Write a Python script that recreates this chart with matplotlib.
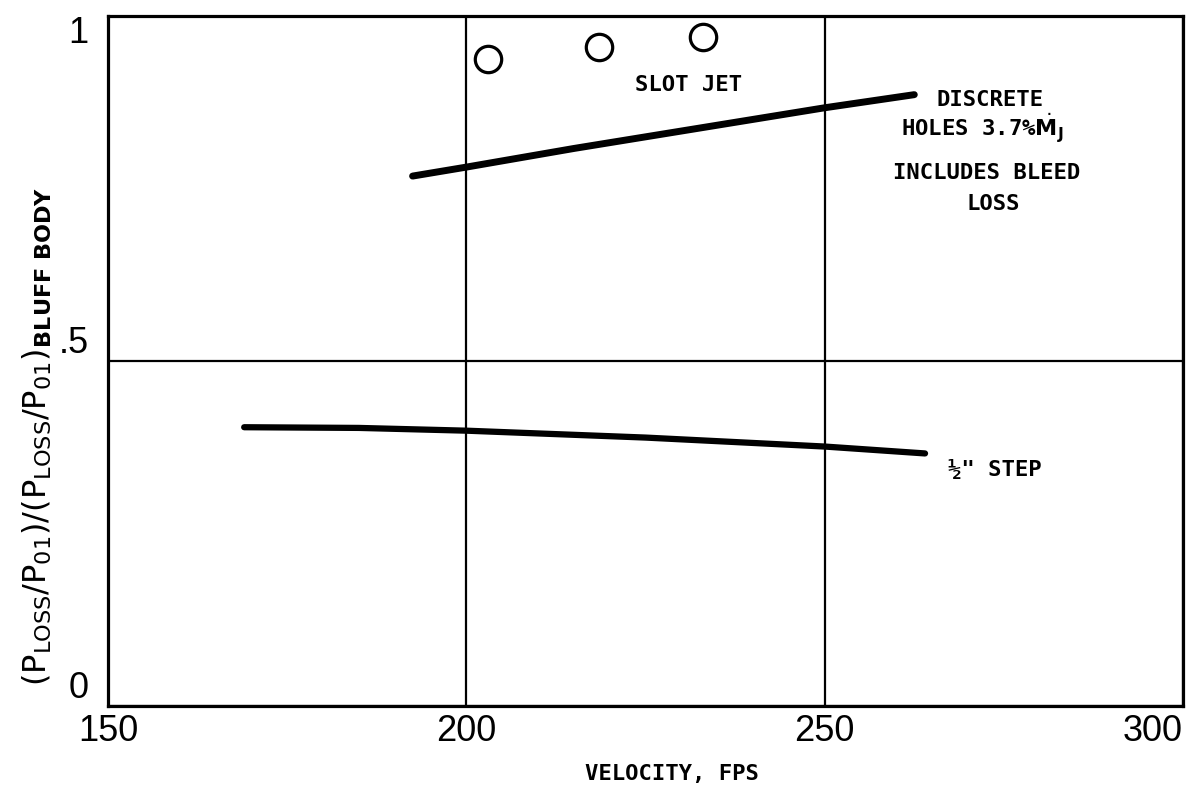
import numpy as np
import matplotlib
matplotlib.use("Agg")
import matplotlib.pyplot as plt

plt.rcParams['font.family'] = ['Liberation Sans', 'DejaVu Sans']
plt.rcParams['mathtext.fontset'] = 'dejavusans'

# slot jet test points
slot_v = [203, 218.5, 233]
slot_ratio = [0.937, 0.955, 0.97]

# discrete holes, 3.7% Mj (includes bleed loss)
holes_v = [192.5, 200, 215, 250, 262.5]
holes_ratio = [0.768, 0.781, 0.808, 0.867, 0.886]

# 1/2 inch step
step_v = [169, 185, 200, 225, 250, 264]
step_ratio = [0.404, 0.403, 0.399, 0.389, 0.376, 0.366]

x_ticks = [150, 200, 250, 300]
x_tick_labels = ['150', '200', '250', '300']
y_ticks = [0, 0.5, 1]
y_tick_labels = ['0', '.5', '1']

fig = plt.figure(figsize=(12.04, 7.96), dpi=100)
ax = fig.add_axes([0.0897, 0.1131, 0.8929, 0.8668])

ax.plot(holes_v, holes_ratio, color='black', lw=5, solid_capstyle='round')
ax.plot(step_v, step_ratio, color='black', lw=4.5, solid_capstyle='round')
ax.plot(slot_v, slot_ratio, 'o', ms=19, mfc='white', mec='black', mew=2.3)

ax.set_xlim(150, 300)
ax.set_ylim(0, 1)
ax.set_xticks(x_ticks)
ax.set_xticklabels(x_tick_labels)
ax.set_yticks(y_ticks)
ax.set_yticklabels(y_tick_labels)
ax.tick_params(length=0, labelsize=26, pad=6)
ax.tick_params(axis='y', pad=14)
for lab, va in zip(ax.get_yticklabels(), ['bottom', 'bottom', 'top']):
    lab.set_va(va)
ax.get_xticklabels()[-1].set_ha('right')

for sp in ax.spines.values():
    sp.set_linewidth(2.3)
ax.grid(True, color='black', lw=1.6)
ax.set_axisbelow(True)

mono = dict(family='DejaVu Sans Mono', fontweight='bold', fontsize=16, color='black')
ax.text(231, 0.9, 'SLOT JET', ha='center', va='center', **mono)
ax.text(273, 0.878, 'DISCRETE', ha='center', va='center', **mono)
ax.text(272, 0.838, r'HOLES 3.7%$\dot{\mathbf{M}}_{\mathbf{J}}$', ha='center', va='center', **mono)
ax.text(272.6, 0.772, 'INCLUDES BLEED', ha='center', va='center', **mono)
ax.text(273.5, 0.728, 'LOSS', ha='center', va='center', **mono)
ax.text(267.2, 0.342, '½" STEP', ha='left', va='center', **mono)

fig.text(0.558, 1 - 774 / 796, 'VELOCITY, FPS', ha='center', va='center', **mono)
fig.text(37 / 1204, 1 - 436 / 796,
         r'$\mathrm{(P_{LOSS}/P_{01})/(P_{LOSS}/P_{01})}_{\mathbf{BLUFF\ BODY}}$',
         rotation=90, ha='center', va='center', fontsize=23)

fig.savefig('out.png', dpi=100, facecolor='white')
